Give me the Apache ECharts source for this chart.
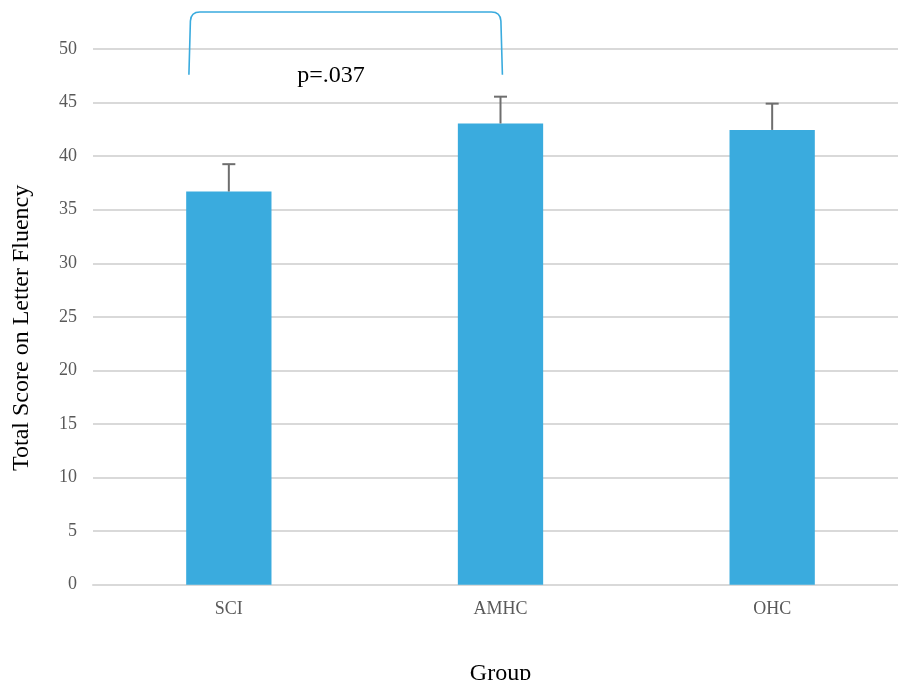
<!DOCTYPE html>
<html>
<head>
<meta charset="utf-8">
<script src="https://cdn.jsdelivr.net/npm/echarts@6/dist/echarts.min.js"></script>
<style>html,body{margin:0;padding:0;background:#fff;}#c{width:898px;height:680px;}</style>
</head>
<body>
<div id="c"></div>
<script>
const categories = ['SCI', 'AMHC', 'OHC'];
const means = [36.7, 43.05, 42.45];
const errors = [2.55, 2.5, 2.45];
const yTicks = [0, 5, 10, 15, 20, 25, 30, 35, 40, 45, 50];
const comparison = { from: 'SCI', to: 'AMHC', label: 'p=.037', top: 53.45, ends: 47.6, labelY: 47.5 };

const serif = '"Liberation Serif","Times New Roman",serif';
const chart = echarts.init(document.getElementById('c'), null, { renderer: 'canvas' });

const errData = categories.map((c, i) => [i, means[i], means[i] + errors[i]]);
const fromIdx = categories.indexOf(comparison.from);
const toIdx = categories.indexOf(comparison.to);

chart.setOption({
  animation: false,
  grid: { left: 93, width: 815, top: 49, bottom: 95.3, containLabel: false, outerBoundsMode: 'none' },
  xAxis: {
    type: 'category',
    data: categories,
    name: 'Group',
    nameLocation: 'middle',
    nameGap: 77,
    nameTextStyle: { fontFamily: serif, fontSize: 24, color: '#000' },
    axisLine: { show: true, lineStyle: { color: '#d9d9d9', width: 2 } },
    axisTick: { show: false },
    axisLabel: { fontFamily: serif, fontSize: 18, color: '#595959', margin: 16 }
  },
  yAxis: {
    type: 'value',
    min: yTicks[0],
    max: yTicks[yTicks.length - 1],
    interval: yTicks[1] - yTicks[0],
    name: 'Total Score on Letter Fluency',
    nameLocation: 'middle',
    nameGap: 59,
    nameTextStyle: { fontFamily: serif, fontSize: 24, color: '#000', padding: [0, 22, 0, 0] },
    axisLine: { show: false },
    axisTick: { show: false },
    axisLabel: { fontFamily: serif, fontSize: 18, color: '#595959', margin: 16 },
    splitLine: { lineStyle: { color: '#d9d9d9', width: 2 } }
  },
  series: [
    {
      type: 'bar',
      data: means,
      barWidth: '31.4%',
      itemStyle: { color: '#3aabde' },
      z: 2
    },
    {
      type: 'custom',
      data: errData,
      z: 3,
      renderItem: function (params, api) {
        const x = api.value(0);
        const base = api.coord([x, api.value(1)]);
        const top = api.coord([x, api.value(2)]);
        const hw = 6.5;
        const style = { stroke: '#6e6e6e', lineWidth: 2 };
        return {
          type: 'group',
          children: [
            { type: 'line', shape: { x1: base[0], y1: base[1], x2: top[0], y2: top[1] }, style: style },
            { type: 'line', shape: { x1: top[0] - hw, y1: top[1], x2: top[0] + hw, y2: top[1] }, style: style }
          ]
        };
      }
    },
    {
      type: 'custom',
      data: [[fromIdx, toIdx, comparison.top, comparison.ends]],
      clip: false,
      z: 4,
      renderItem: function (params, api) {
        const band = api.size([1, 0])[0];
        const pA = api.coord([api.value(0), api.value(3)]);
        const pB = api.coord([api.value(1), api.value(3)]);
        const yTop = api.coord([api.value(0), api.value(2)])[1];
        const xL = pA[0] - 0.147 * band;
        const xR = pB[0] + 0.007 * band;
        const yB = pA[1];
        const r = 9;
        const path = 'M' + xL + ' ' + yB +
          ' L' + (xL + 1.5) + ' ' + (yTop + r) +
          ' Q' + (xL + 2) + ' ' + yTop + ' ' + (xL + r + 2) + ' ' + yTop +
          ' L' + (xR - r - 2) + ' ' + yTop +
          ' Q' + (xR - 2) + ' ' + yTop + ' ' + (xR - 1.5) + ' ' + (yTop + r) +
          ' L' + xR + ' ' + yB;
        const ly = api.coord([api.value(0), comparison.labelY])[1];
        const lx = pA[0] + 0.376 * (pB[0] - pA[0]);
        return {
          type: 'group',
          children: [
            { type: 'path', shape: { pathData: path }, style: { stroke: '#3aabde', lineWidth: 1.6, fill: null } },
            { type: 'text', x: lx, y: ly, style: { text: comparison.label, font: '24px ' + serif, fill: '#000', align: 'center', verticalAlign: 'middle' } }
          ]
        };
      }
    }
  ]
});
</script>
</body>
</html>
